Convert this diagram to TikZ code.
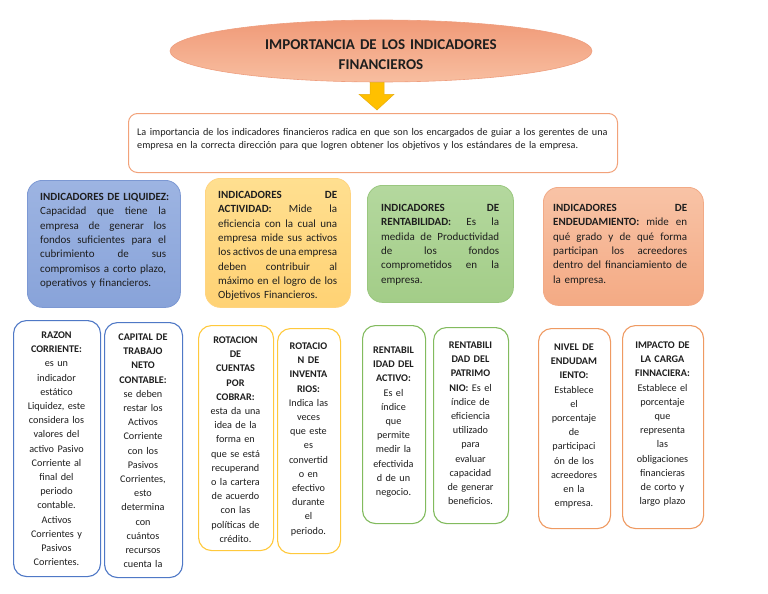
\documentclass[tikz,border=0pt]{standalone}
\usepackage{fontspec}
\setmainfont{Carlito}
\usetikzlibrary{shapes.geometric,calc}
\definecolor{txt}{HTML}{1E1E1E}
\definecolor{ellTop}{HTML}{F09A78}
\definecolor{ellBot}{HTML}{F8BEA0}
\definecolor{ellLine}{HTML}{EE9E7E}
\definecolor{arrFill}{HTML}{FFC000}
\definecolor{arrLine}{HTML}{E8AE10}
\definecolor{descLine}{HTML}{F2A27A}
\definecolor{bluT}{HTML}{9DB4E2}
\definecolor{bluB}{HTML}{88A3D9}
\definecolor{bluL}{HTML}{7C98D3}
\definecolor{yelT}{HTML}{FFDF90}
\definecolor{yelB}{HTML}{FFD274}
\definecolor{yelL}{HTML}{FFD480}
\definecolor{grnT}{HTML}{B4D89E}
\definecolor{grnB}{HTML}{A3CD88}
\definecolor{grnL}{HTML}{9AC77F}
\definecolor{salT}{HTML}{F8C3A6}
\definecolor{salB}{HTML}{F4AA84}
\definecolor{salL}{HTML}{F2AA86}
\definecolor{l3blue}{HTML}{4F78C6}
\definecolor{l3yel}{HTML}{FFC93C}
\definecolor{l3grn}{HTML}{82BB5E}
\definecolor{l3org}{HTML}{EF9A62}
\newcommand\jl[1]{\leavevmode\hbox to \hsize{#1}\\}
\tikzset{
  l2box/.style={draw=#1L, line width=0.8pt, rounded corners=15pt, anchor=north west, inner sep=0pt, top color=#1T, bottom color=#1B},
  l3box/.style={draw=#1, fill=white, line width=1.1pt, rounded corners=13pt, anchor=north west, inner sep=0pt},
  l2text/.style={anchor=base west, inner sep=0pt, align=left, text=txt, font=\fontsize{11}{14.3}\selectfont},
  l3text/.style={anchor=base, inner sep=0pt, align=center, text=txt, font=\fontsize{10.2}{14.2}\selectfont},
}
\begin{document}
\begin{tikzpicture}[x=1pt,y=-1pt]
\useasboundingbox (0,0) rectangle (768,594);
% title
\node[ellipse, draw=ellLine, line width=0.6pt, top color=ellTop, bottom color=ellBot, minimum width=422, minimum height=62, inner sep=0pt] (title) at (381,51) {};
\node[anchor=base, inner sep=0pt, text width=320, align=center, text=txt, font=\bfseries\fontsize{15}{20}\selectfont] (titletext) at (381,50) {IMPORTANCIA DE LOS INDICADORES\\FINANCIEROS};
% description
\node[draw=descLine, fill=white, line width=1pt, rounded corners=9pt, anchor=north west, minimum width=489, minimum height=59, inner sep=0pt] (desc) at (128,113) {};
\node[anchor=base west, inner sep=0pt, text width=480, align=left, text=txt, font=\fontsize{10.2}{13.3}\selectfont] (desctext) at (137,135) {La importancia de los indicadores financieros radica en que son los encargados de guiar a los gerentes de una\\empresa en la correcta dirección para que logren obtener los objetivos y los estándares de la empresa.};
% arrow
\coordinate (ar) at ($(title.south)+(-4,0)$);
\draw[fill=arrFill, draw=arrLine, line width=0.5pt] ($(ar)+(-7,0)$) -- ($(ar)+(7,0)$) -- ($(ar)+(7,12)$) -- ($(ar)+(17,12)$) -- ($(desc.north)+(4,-3)$) -- ($(ar)+(-18,12)$) -- ($(ar)+(-7,12)$) -- cycle;
% level 2
\node[l2box=blu, minimum width=153, minimum height=127] (liq) at (27,180) {};
\node[l2box=yel, minimum width=145, minimum height=129] (act) at (205,178) {};
\node[l2box=grn, minimum width=146, minimum height=117] (ren) at (367,185) {};
\node[l2box=sal, minimum width=160, minimum height=118] (end) at (543,187) {};
\node[l2text, text width=126] (liqtext) at (40,200.5) {%
\jl{\textbf{INDICADORES DE LIQUIDEZ:}}
\jl{Capacidad\hfill que\hfill tiene\hfill la}
\jl{empresa\hfill de\hfill generar\hfill los}
\jl{fondos\hfill suficientes\hfill para\hfill el}
\jl{cubrimiento\hfill de\hfill sus}
\jl{compromisos\hfill a\hfill corto\hfill plazo,}
operativos y financieros.};
\node[l2text, text width=119] (acttext) at (218,198.5) {%
\jl{\textbf{INDICADORES}\hfill\textbf{DE}}
\jl{\textbf{ACTIVIDAD:}\hfill Mide\hfill la}
\jl{eficiencia\hfill con\hfill la\hfill cual\hfill una}
\jl{empresa\hfill mide\hfill sus\hfill activos}
\jl{los\hfill activos\hfill de\hfill una\hfill empresa}
\jl{deben\hfill contribuir\hfill al}
\jl{máximo\hfill en\hfill el\hfill logro\hfill de\hfill los}
Objetivos Financieros.};
\node[l2text, text width=118] (rentext) at (381,211.5) {%
\jl{\textbf{INDICADORES}\hfill\textbf{DE}}
\jl{\textbf{RENTABILIDAD:}\hfill Es\hfill la}
\jl{medida\hfill de\hfill Productividad}
\jl{de\hfill los\hfill fondos}
\jl{comprometidos\hfill en\hfill la}
empresa.};
\node[l2text, text width=134] (endtext) at (553,211.5) {%
\jl{\textbf{INDICADORES}\hfill\textbf{DE}}
\jl{\textbf{ENDEUDAMIENTO:}\hfill mide\hfill en}
\jl{qué\hfill grado\hfill y\hfill de\hfill qué\hfill forma}
\jl{participan\hfill los\hfill acreedores}
\jl{dentro\hfill del\hfill financiamiento\hfill de}
la empresa.};
% level 3
\node[l3box=l3blue, minimum width=87, minimum height=256] (raz) at (13,320) {};
\node[l3box=l3blue, minimum width=78, minimum height=255] (cap) at (104,322) {};
\node[l3box=l3yel, minimum width=75, minimum height=225] (rcc) at (198,325) {};
\node[l3box=l3yel, minimum width=63, minimum height=225] (rin) at (277,328) {};
\node[l3box=l3grn, minimum width=63, minimum height=198] (rac) at (362,325) {};
\node[l3box=l3grn, minimum width=75, minimum height=196] (rpa) at (433,327) {};
\node[l3box=l3org, minimum width=72, minimum height=200] (niv) at (538,328) {};
\node[l3box=l3org, minimum width=81, minimum height=203] (imp) at (622,325) {};
\node[l3text, text width=87] (raztext) at (56.5,338.5) {\textbf{RAZON}\\\textbf{CORRIENTE:}\\es un\\indicador\\estático\\Liquidez, este\\considera los\\valores del\\activo Pasivo\\Corriente al\\final del\\periodo\\contable.\\Activos\\Corrientes y\\Pasivos\\Corrientes.};
\node[l3text, text width=78] (captext) at (143,340.5) {\textbf{CAPITAL DE}\\\textbf{TRABAJO}\\\textbf{NETO}\\\textbf{CONTABLE:}\\se deben\\restar los\\Activos\\Corriente\\con los\\Pasivos\\Corrientes,\\esto\\determina\\con\\cuántos\\recursos\\cuenta la};
\node[l3text, text width=75] (rcctext) at (235.5,343.5) {\textbf{ROTACION}\\\textbf{DE}\\\textbf{CUENTAS}\\\textbf{POR}\\\textbf{COBRAR:}\\esta da una\\idea de la\\forma en\\que se está\\recuperand\\o la cartera\\de acuerdo\\con las\\políticas de\\crédito.};
\node[l3text, text width=63] (rintext) at (308.5,349.5) {\textbf{ROTACIO}\\\textbf{N DE}\\\textbf{INVENTA}\\\textbf{RIOS:}\\Indica las\\veces\\que este\\es\\convertid\\o en\\efectivo\\durante\\el\\periodo.};
\node[l3text, text width=63] (ractext) at (393.5,353.5) {\textbf{RENTABIL}\\\textbf{IDAD DEL}\\\textbf{ACTIVO:}\\Es el\\índice\\que\\permite\\medir la\\efectivida\\d de un\\negocio.};
\node[l3text, text width=75] (rpatext) at (470.5,348.5) {\textbf{RENTABILI}\\\textbf{DAD DEL}\\\textbf{PATRIMO}\\\textbf{NIO:} Es el\\índice de\\eficiencia\\utilizado\\para\\evaluar\\capacidad\\de generar\\beneficios.};
\node[l3text, text width=72] (nivtext) at (574,350.5) {\textbf{NIVEL DE}\\\textbf{ENDUDAM}\\\textbf{IENTO:}\\Establece\\el\\porcentaje\\de\\participaci\\ón de los\\acreedores\\en la\\empresa.};
\node[l3text, text width=81] (imptext) at (662.5,348.5) {\textbf{IMPACTO DE}\\\textbf{LA CARGA}\\\textbf{FINNACIERA:}\\Establece el\\porcentaje\\que\\representa\\las\\obligaciones\\financieras\\de corto y\\largo plazo};
\end{tikzpicture}
\end{document}
